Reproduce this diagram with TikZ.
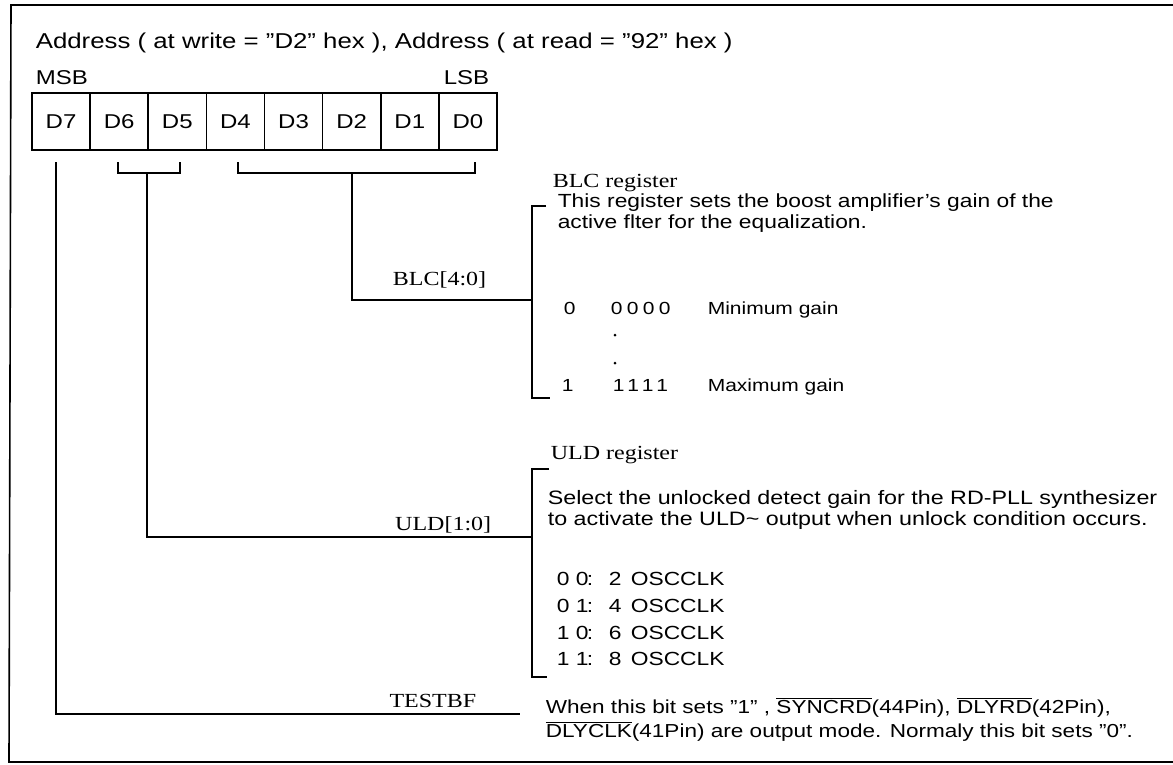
\documentclass[tikz,border=0pt]{standalone}
\usepackage{fontspec}
\setmainfont{Liberation Sans}[FakeStretch=1.2]
\newfontfamily\serifface{Liberation Serif}[FakeStretch=1.2]
\newcommand\ovl[1]{$\overline{\hbox{#1}}$}
\newcommand\dq{\char34\relax}
\begin{document}
\begin{tikzpicture}[x=1pt,y=-1pt,line width=1.6pt,
  sans/.style={inner sep=0pt,anchor=base west,font=\fontsize{19}{23}\selectfont},
  sanswide/.style={inner sep=0pt,anchor=base west,font=\fontsize{19.4}{23}\selectfont},
  sansnar/.style={inner sep=0pt,anchor=base west,font=\fontsize{18.8}{23}\selectfont},
  big/.style={inner sep=0pt,anchor=base west,font=\fontsize{21.5}{25}\selectfont},
  hdr/.style={inner sep=0pt,font=\fontsize{20}{24}\selectfont},
  rowtxt/.style={inner sep=0pt,anchor=base west,font=\fontsize{17.5}{21}\selectfont},
  serlbl/.style={inner sep=0pt,font=\serifface\fontsize{20}{24}\selectfont},
  cell/.style={draw,line width=1.6pt,minimum width=58.125pt,minimum height=57pt,inner sep=0pt,font=\fontsize{20}{24}\selectfont},
  dot/.style={circle,fill,inner sep=0pt,minimum size=3pt}]
\useasboundingbox (0,0) rectangle (1173,764);
% frame
\coordinate (ftl) at (11,5);
\coordinate (ftr) at (1173,5);
\coordinate (fbl) at (9,762);
\coordinate (fbr) at (1173,762);
\draw (ftr) -- (ftl) -- (fbl) -- (fbr);
% header
\node[big] (addr) at (35,48) {Address ( at write = \dq D2\dq\ hex ), Address ( at read = \dq 92\dq\ hex )};
\node[hdr,anchor=base west] (msb) at (35,84) {MSB};
\node[hdr,anchor=base east] (lsb) at (490,84) {LSB};
% register cells
\foreach \i/\t in {0/D7,1/D6,2/D5,3/D4,4/D3,5/D2,6/D1,7/D0}
  \node[cell] (c\i) at ({32+58.125*(\i+0.5)},121.5) {\t};
% D7 -> TESTBF
\coordinate (d7top) at (56,162);
\coordinate (d7bot) at (56,714);
\coordinate (tend) at (520,714);
\draw (d7top) -- (d7bot) -- (tend);
% D6-D5 bracket -> ULD
\coordinate (ba1) at (118,162);
\coordinate (ba2) at (118,173);
\coordinate (ba3) at (180,173);
\coordinate (ba4) at (180,162);
\coordinate (bam) at (147,173);
\coordinate (bac) at (147,537);
\coordinate (uldj) at (532,537);
\draw (ba1) -- (ba2) -- (ba3) -- (ba4);
\draw (bam) -- (bac) -- (uldj);
% D4-D0 bracket -> BLC
\coordinate (bb1) at (238,162);
\coordinate (bb2) at (238,173);
\coordinate (bb3) at (475,173);
\coordinate (bb4) at (475,162);
\coordinate (bbm) at (352,173);
\coordinate (bbc) at (352,300);
\coordinate (blcj) at (532,300);
\draw (bb1) -- (bb2) -- (bb3) -- (bb4);
\draw (bbm) -- (bbc) -- (blcj);
% BLC side bracket
\coordinate (k1) at (546,206);
\coordinate (k2) at (532,206);
\coordinate (k3) at (532,398);
\coordinate (k4) at (550,398);
\draw (k1) -- (k2) -- (k3) -- (k4);
% ULD side bracket
\coordinate (u1) at (549,469);
\coordinate (u2) at (532,469);
\coordinate (u3) at (532,677);
\coordinate (u4) at (547,677);
\draw (u1) -- (u2) -- (u3) -- (u4);
% labels on lines
\node[serlbl,anchor=base east] (blcl) at (487,285) {BLC[4:0]};
\node[serlbl,anchor=base east] (uldl) at (492,530) {ULD[1:0]};
\node[serlbl,anchor=base east] (tstl) at (477,707) {TESTBF};
% BLC register
\node[serlbl,anchor=base west] (blct) at (552,187) {BLC register};
\node[sans] (blcd1) at (557,207) {This register sets the boost amplifier's gain of the};
\node[sans] (blcd2) at (557,228) {active flter for the equalization.};
\node[rowtxt] (r0a) at (563,314) {0};
\node[rowtxt] (r0b) at (610,314) {\addfontfeature{LetterSpace=25}0000};
\node[rowtxt] (r0c) at (707,314) {Minimum gain};
\node[dot] (dt1) at (615,335) {};
\node[dot] (dt2) at (615,363) {};
\node[rowtxt] (r1a) at (561,391) {1};
\node[rowtxt] (r1b) at (612,391) {\addfontfeature{LetterSpace=25}1111};
\node[rowtxt] (r1c) at (707,391) {Maximum gain};
% ULD register
\node[serlbl,anchor=base west] (uldt) at (550,459) {ULD register};
\node[sanswide] (uldd1) at (547,504) {Select the unlocked detect gain for the RD-PLL synthesizer};
\node[sanswide] (uldd2) at (547,525) {to activate the ULD\char`\~{} output when unlock condition occurs.};
\foreach \j/\a/\b/\y in {1/0 0/2/585,2/0 1/4/612,3/1 0/6/639,4/1 1/8/665}{
  \node[sans] (o\j a) at (556,\y) {\a};
  \node[sans] (o\j b) at (586,\y) {:};
  \node[sans] (o\j c) at (608,\y) {\b};
  \node[sans] (o\j d) at (630,\y) {OSCCLK};
}
% TESTBF
\node[sansnar] (tb1) at (545,713) {When this bit sets \dq 1\dq\ , \ovl{SYNCRD}(44Pin), \ovl{DLYRD}(42Pin),};
\node[sansnar] (tb2) at (545,737) {\ovl{DLYCLK}(41Pin) are output mode. Normaly this bit sets \dq 0\dq .};
\end{tikzpicture}
\end{document}
